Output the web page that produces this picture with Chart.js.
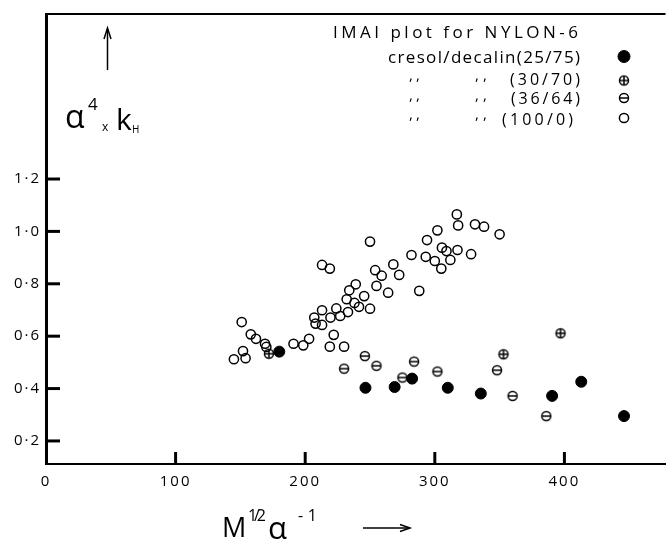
<!DOCTYPE html>
<html>
<head>
<meta charset="utf-8">
<script src="https://cdn.jsdelivr.net/npm/chart.js@4.4.1/dist/chart.umd.min.js"></script>
<style>
  html, body { margin: 0; padding: 0; background: #fff; }
  #wrap { width: 672px; height: 541px; position: relative; }
</style>
</head>
<body>
<div id="wrap"><canvas id="myChart"></canvas></div>
<script>
const FONT = '"Open Sans", "DejaVu Sans", sans-serif';

const xTicks = [0, 100, 200, 300, 400];
const yTicks = [0.2, 0.4, 0.6, 0.8, 1.0, 1.2];

// cresol/decalin (25/75) - filled circles
const x25 = [180, 246.5, 269, 282.5, 310, 335.5, 390.5, 413, 446];
const y25 = [0.541, 0.403, 0.406, 0.438, 0.403, 0.381, 0.372, 0.426, 0.295];

// (30/70) - circle with cross
const x30 = [172, 353, 397];
const y30 = [0.533, 0.531, 0.611];

// (36/64) - circle with bar
const x36 = [230, 246, 255, 275, 284, 302, 348, 360, 386];
const y36 = [0.476, 0.524, 0.487, 0.442, 0.503, 0.465, 0.470, 0.372, 0.295];

// (100/0) - open circles
const x100 = [145, 151, 152, 154, 158, 162, 169, 170,
  191, 198.5, 203, 219, 222, 230,
  213, 219, 250,
  207, 208, 213, 213, 219.5, 224, 227, 233, 232, 234, 239, 238, 241.5, 245.5, 250, 255, 254, 259, 264,
  268, 272.5, 282, 288,
  294, 293, 300, 302, 305, 305.5, 309, 312, 317, 318, 317.5, 328, 331, 338, 350];
const y100 = [0.512, 0.654, 0.543, 0.516, 0.607, 0.590, 0.571, 0.559,
  0.571, 0.565, 0.590, 0.560, 0.605, 0.560,
  0.872, 0.858, 0.961,
  0.671, 0.648, 0.643, 0.699, 0.671, 0.706, 0.677, 0.692, 0.741, 0.775, 0.798, 0.727, 0.712, 0.753, 0.705, 0.792, 0.852, 0.831, 0.766,
  0.874, 0.834, 0.910, 0.773,
  0.967, 0.903, 0.887, 1.004, 0.858, 0.938, 0.925, 0.891, 1.065, 1.023, 0.929, 0.913, 1.027, 1.018, 0.989];

const legendRows = ['cresol/decalin(25/75)', '(30/70)', '(36/64)', '(100/0)'];

function toPoints(xs, ys) {
    return xs.map((x, i) => ({ x: x, y: ys[i] }));
}

// small canvases used as point styles for the crossed circles
function ringMark(kind) {
    const c = document.createElement('canvas');
    c.width = 14; c.height = 14;
    const g = c.getContext('2d');
    g.strokeStyle = '#000';
    g.lineWidth = 1.5;
    g.beginPath(); g.arc(7, 7, 4.5, 0, Math.PI * 2); g.stroke();
    g.beginPath();
    g.moveTo(2.5, 7); g.lineTo(11.5, 7);
    if (kind === 'plus') { g.moveTo(7, 2.5); g.lineTo(7, 11.5); }
    g.stroke();
    return c;
}
const plusMark = ringMark('plus');
const minusMark = ringMark('minus');

function line(ctx, x0, y0, x1, y1) {
    ctx.beginPath(); ctx.moveTo(x0, y0); ctx.lineTo(x1, y1); ctx.stroke();
}

// draw text stretched between x0 and x1
function spread(ctx, text, x0, x1, yb, size) {
    ctx.font = size + 'px ' + FONT;
    ctx.letterSpacing = '0px';
    const w = ctx.measureText(text).width;
    const gap = text.length > 1 ? (x1 - x0 - w) / (text.length - 1) : 0;
    ctx.letterSpacing = gap + 'px';
    ctx.textAlign = 'left';
    ctx.textBaseline = 'alphabetic';
    ctx.fillText(text, x0, yb);
    ctx.letterSpacing = '0px';
}

function put(ctx, text, x, yb, size) {
    ctx.font = size + 'px ' + FONT;
    ctx.letterSpacing = '0px';
    ctx.textAlign = 'left';
    ctx.textBaseline = 'alphabetic';
    ctx.fillText(text, x, yb);
}

const decor = {
    id: 'decor',
    beforeDraw(chart) {
        chart.ctx.letterSpacing = '2px';
    },
    afterDraw(chart) {
        const ctx = chart.ctx;
        const a = chart.chartArea;
        const xs = chart.scales.x, ys = chart.scales.y;
        ctx.save();
        ctx.letterSpacing = '0px';
        ctx.strokeStyle = '#000';
        ctx.fillStyle = '#000';
        ctx.lineCap = 'butt';

        // top frame line
        ctx.lineWidth = 2;
        line(ctx, a.left, a.top, a.right, a.top);

        // inward tick marks
        ctx.lineWidth = 3;
        yTicks.forEach(v => {
            const py = ys.getPixelForValue(v);
            line(ctx, a.left, py, a.left + 14, py);
        });
        xTicks.filter(v => v > 0).forEach(v => {
            const px = xs.getPixelForValue(v);
            line(ctx, px, a.bottom, px, a.bottom - 12);
        });

        // y axis title with arrow
        ctx.lineWidth = 1.5;
        line(ctx, 107.5, 70, 107.5, 29);
        ctx.beginPath();
        ctx.moveTo(104, 39); ctx.lineTo(107.5, 28); ctx.lineTo(111, 39);
        ctx.stroke();
        put(ctx, 'α', 65, 128, 32);
        put(ctx, '4', 88, 110, 17);
        put(ctx, 'x', 102, 131, 12);
        put(ctx, 'k', 116, 130, 30);
        put(ctx, 'H', 132, 133, 10);

        // x axis title with arrow
        put(ctx, 'M', 222, 537, 27);
        spread(ctx, '1/2', 248, 266, 521, 16);
        put(ctx, 'α', 268, 539, 31);
        spread(ctx, '-1', 298, 317, 521, 16);
        line(ctx, 363, 528, 409, 528);
        ctx.beginPath();
        ctx.moveTo(400, 524.5); ctx.lineTo(410, 528); ctx.lineTo(400, 531.5);
        ctx.stroke();

        // legend block
        spread(ctx, 'IMAI plot for NYLON-6', 333, 578, 38, 17);
        spread(ctx, legendRows[0], 388, 580, 63, 17);
        spread(ctx, legendRows[1], 510, 580, 85, 16);
        spread(ctx, legendRows[2], 511, 580, 104, 16);
        spread(ctx, legendRows[3], 502, 573, 125, 16);
        [80, 100, 119].forEach(yb => {
            spread(ctx, ',,', 409, 420, yb, 15);
            spread(ctx, ',,', 475, 487, yb, 15);
        });

        const marks = chart.data.datasets;
        const rowY = [56.5, 80.5, 98, 118];
        marks.forEach((ds, i) => {
            ctx.fillStyle = ds.backgroundColor;
            ctx.strokeStyle = '#000';
            ctx.lineWidth = ds.borderWidth;
            Chart.helpers.drawPoint(ctx, {
                pointStyle: ds.pointStyle,
                radius: i === 0 ? 6 : ds.pointRadius,
                borderWidth: ds.borderWidth,
                rotation: 0
            }, 624, rowY[i]);
        });
        ctx.restore();
    }
};

const ctx = document.getElementById('myChart').getContext('2d');
const myChart = new Chart(ctx, {
    type: 'scatter',
    data: {
        datasets: [{
            label: legendRows[0],
            data: toPoints(x25, y25),
            pointStyle: 'circle',
            pointRadius: 5.5,
            borderWidth: 1,
            backgroundColor: '#000',
            borderColor: '#000'
        }, {
            label: legendRows[1],
            data: toPoints(x30, y30),
            pointStyle: plusMark,
            pointRadius: 5,
            borderWidth: 1.5,
            backgroundColor: 'rgba(0,0,0,0)',
            borderColor: '#000'
        }, {
            label: legendRows[2],
            data: toPoints(x36, y36),
            pointStyle: minusMark,
            pointRadius: 5,
            borderWidth: 1.5,
            backgroundColor: 'rgba(0,0,0,0)',
            borderColor: '#000'
        }, {
            label: legendRows[3],
            data: toPoints(x100, y100),
            pointStyle: 'circle',
            pointRadius: 4.6,
            borderWidth: 1.5,
            backgroundColor: 'rgba(0,0,0,0)',
            borderColor: '#000'
        }]
    },
    options: {
        responsive: true,
        maintainAspectRatio: false,
        animation: false,
        events: [],
        layout: { padding: { top: 13, right: 0, left: 0, bottom: 0 } },
        plugins: {
            legend: { display: false },
            title: { display: false },
            tooltip: { enabled: false }
        },
        scales: {
            x: {
                type: 'linear',
                min: 0,
                max: 478,
                afterBuildTicks: axis => { axis.ticks = xTicks.map(v => ({ value: v })); },
                afterFit: axis => { axis.height = 77; },
                grid: { display: false, drawTicks: false },
                border: { display: true, color: '#000', width: 2 },
                ticks: {
                    color: '#000',
                    padding: 9,
                    maxRotation: 0,
                    autoSkip: false,
                    font: { family: FONT, size: 15 }
                }
            },
            y: {
                type: 'linear',
                min: 0.112,
                max: 1.83,
                afterBuildTicks: axis => { axis.ticks = yTicks.map(v => ({ value: v })); },
                afterFit: axis => { axis.width = 46; },
                grid: { display: false, drawTicks: false },
                border: { display: true, color: '#000', width: 3 },
                ticks: {
                    color: '#000',
                    padding: 5,
                    autoSkip: false,
                    font: { family: FONT, size: 15 },
                    callback: v => v.toFixed(1).replace('.', '·')
                }
            }
        }
    },
    plugins: [decor]
});
</script>
</body>
</html>
